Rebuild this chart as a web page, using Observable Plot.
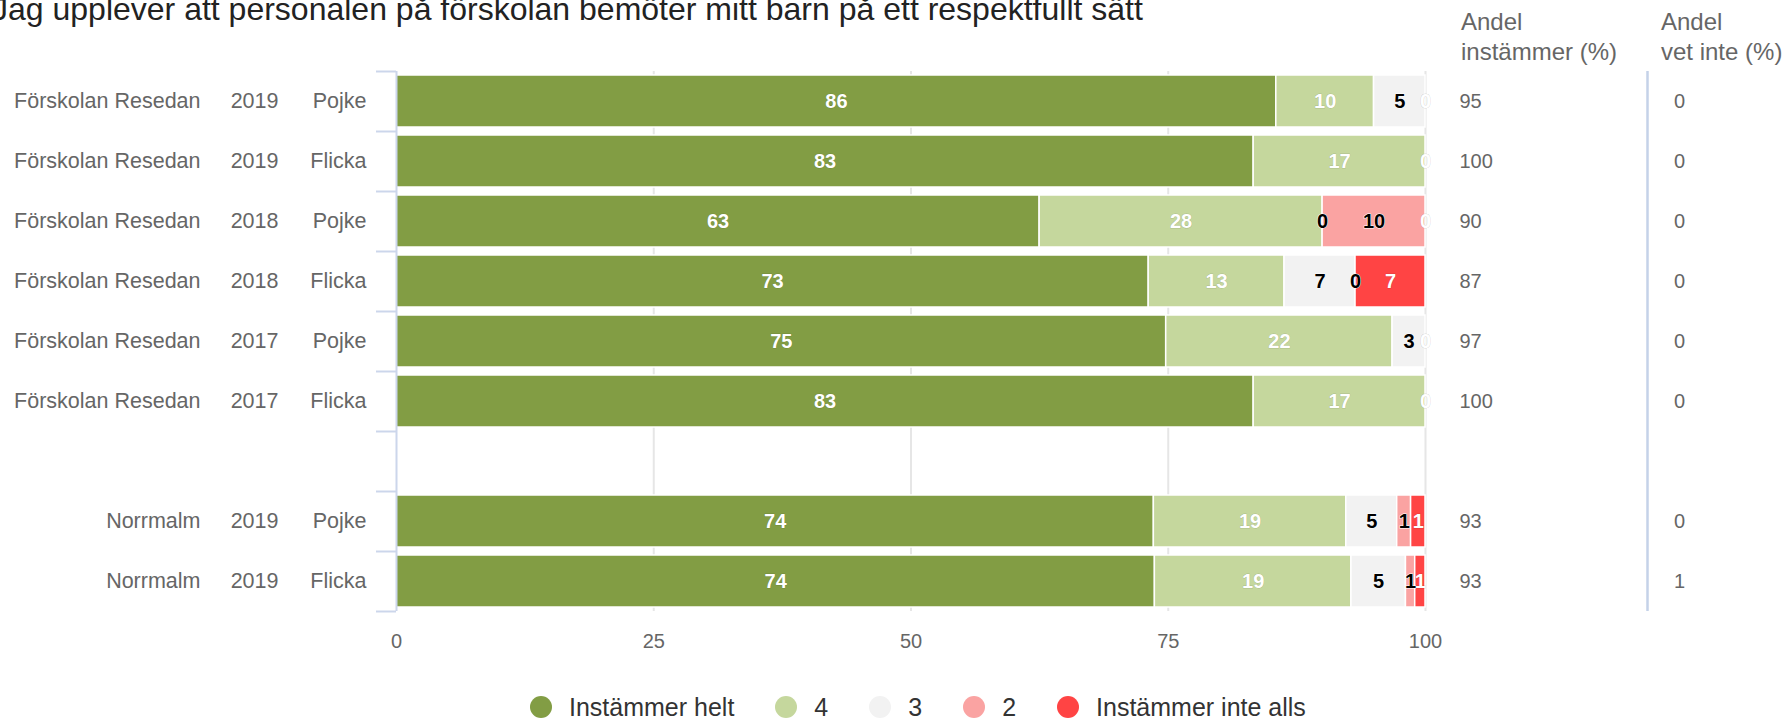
<!DOCTYPE html>
<html><head><meta charset="utf-8">
<script src="https://cdn.jsdelivr.net/npm/d3@7"></script>
<script src="https://cdn.jsdelivr.net/npm/@observablehq/plot@0.6"></script>
<style>
body{margin:0;background:#fff;font-family:"Liberation Sans",Arial,sans-serif;}
#wrap{position:relative;width:1787px;height:721px;overflow:hidden;}
#title{position:absolute;left:-8px;top:-7px;font-size:32px;line-height:32px;color:#222;white-space:nowrap;}
.hdr{position:absolute;top:7px;font-size:24px;line-height:30px;color:#666;white-space:nowrap;}
#chart{position:absolute;left:0;top:0;}
#legend{position:absolute;left:530px;top:695px;height:24px;display:flex;align-items:center;gap:41px;}
.item{display:flex;align-items:center;}
.dot{width:22px;height:22px;border-radius:50%;margin-right:17px;}
.lab{font-size:25px;line-height:24px;color:#333;white-space:nowrap;}
</style></head>
<body><div id="wrap">
<div id="title"></div>
<div class="hdr" id="h1" style="left:1461px"></div>
<div class="hdr" id="h2" style="left:1661px"></div>
<div id="chart"></div>
<div id="legend"></div>
</div>
<script>
const title = "Jag upplever att personalen på förskolan bemöter mitt barn på ett respektfullt sätt";
const header1 = ["Andel", "instämmer (%)"];
const header2 = ["Andel", "vet inte (%)"];
const units = ["Förskolan Resedan","Förskolan Resedan","Förskolan Resedan","Förskolan Resedan","Förskolan Resedan","Förskolan Resedan","Norrmalm","Norrmalm"];
const years = ["2019","2019","2018","2018","2017","2017","2019","2019"];
const genders = ["Pojke","Flicka","Pojke","Flicka","Pojke","Flicka","Pojke","Flicka"];
const gapAfter = 5; // empty row after this index
const categories = ["Instämmer helt","4","3","2","Instämmer inte alls"];
const colors = ["#829d44","#c5d79d","#f2f2f2","#faa3a2","#ff4444"];
const labelDark = [false,false,true,true,false];
const helt     = [85.5, 83.3, 62.5, 73.1, 74.8, 83.3, 73.6, 73.7];
const fyra     = [9.5, 16.7, 27.5, 13.2, 22.0, 16.7, 18.7, 19.1];
const tre      = [5.0, 0, 0, 6.9, 3.2, 0, 4.95, 5.3];
const tva      = [0, 0, 10.0, 0, 0, 0, 1.35, 0.9];
const inteAlls = [0, 0, 0, 6.8, 0, 0, 1.4, 1.0];
const agree    = [95, 100, 90, 87, 97, 100, 93, 93];
const dontKnow = [0, 0, 0, 0, 0, 0, 0, 1];
const xTicks = [0, 25, 50, 75, 100];

document.getElementById("title").textContent = title;
document.getElementById("h1").innerHTML = header1.join("<br>");
document.getElementById("h2").innerHTML = header2.join("<br>");

const series = [helt, fyra, tre, tva, inteAlls];
const rows = units.map((u, i) => ({key: `r${i}`, unit: u, year: years[i], gender: genders[i], agree: agree[i], dk: dontKnow[i]}));
const domain = [];
rows.forEach((r, i) => { domain.push(r.key); if (i === gapAfter) domain.push("gap"); });

const segs = [], labels = [];
rows.forEach((r, i) => {
  let c = 0;
  const rowLabels = [];
  series.forEach((s, j) => {
    const v = s[i];
    const seg = {key: r.key, cat: categories[j], x1: c, x2: c + v, mid: Math.round((c + v / 2) * 100) / 100, label: String(Math.round(v)), dark: labelDark[j]};
    if (v > 0) segs.push(seg);
    rowLabels.push(seg);
    c += v;
  });
  // overlapping labels at identical position: keep the last one
  rowLabels.forEach((l, idx) => {
    if (!rowLabels.slice(idx + 1).some(o => o.mid === l.mid)) labels.push(l);
  });
});

const font = "Liberation Sans, Arial, sans-serif";
const chart = Plot.plot({
  width: 1787, height: 680,
  marginTop: 71, marginBottom: 69, marginLeft: 396, marginRight: 362,
  style: {fontFamily: font, background: "transparent"},
  x: {domain: [0, 100], axis: null},
  y: {domain, padding: 0, axis: null},
  color: {domain: categories, range: colors},
  marks: [
    Plot.ruleX(xTicks.slice(1), {stroke: "#e6e6e6", strokeWidth: 2}),
    Plot.barX(segs, {x1: "x1", x2: "x2", y: "key", fill: "cat", insetTop: 4, insetBottom: 4, stroke: "#fff", strokeWidth: 1.5}),
    Plot.ruleX([0], {stroke: "#ccd6eb", strokeWidth: 2}),
    Plot.axisY({tickSize: 20, tickFormat: () => "", stroke: "#ccd6eb", strokeWidth: 2, dy: -30, label: null}),
    Plot.axisY({ticks: [domain[domain.length - 1]], tickSize: 20, tickFormat: () => "", stroke: "#ccd6eb", strokeWidth: 2, dy: 30, label: null}),
    Plot.text(rows, {y: "key", text: "unit", frameAnchor: "left", dx: -196, textAnchor: "end", fill: "#666", fontSize: 21.5}),
    Plot.text(rows, {y: "key", text: "year", frameAnchor: "left", dx: -118, textAnchor: "end", fill: "#666", fontSize: 21.5}),
    Plot.text(rows, {y: "key", text: "gender", frameAnchor: "left", dx: -30, textAnchor: "end", fill: "#666", fontSize: 21.5}),
    Plot.text(labels.filter(d => !d.dark), {x: "mid", y: "key", text: "label", fill: "#fff", stroke: "#000", strokeOpacity: 0.15, strokeWidth: 1, fontSize: 20, fontWeight: "bold"}),
    Plot.text(labels.filter(d => d.dark), {x: "mid", y: "key", text: "label", fill: "#000", stroke: "#fff", strokeWidth: 1, fontSize: 20, fontWeight: "bold"}),
    Plot.text(rows, {y: "key", text: d => String(d.agree), frameAnchor: "right", dx: 34, textAnchor: "start", fill: "#666", fontSize: 20}),
    Plot.ruleX([100], {dx: 222, stroke: "#c5d2e8", strokeWidth: 2.5}),
    Plot.text(rows, {y: "key", text: d => String(d.dk), frameAnchor: "right", dx: 254, textAnchor: "middle", fill: "#666", fontSize: 20}),
    Plot.axisX({ticks: xTicks, tickSize: 0, tickPadding: 22, fontSize: 20, fill: "#666", label: null})
  ]
});
document.getElementById("chart").appendChild(chart);

const legend = document.getElementById("legend");
categories.forEach((c, i) => {
  const item = document.createElement("div");
  item.className = "item";
  item.innerHTML = `<div class="dot" style="background:${colors[i]}"></div><div class="lab">${c}</div>`;
  legend.appendChild(item);
});
</script>
</body></html>
